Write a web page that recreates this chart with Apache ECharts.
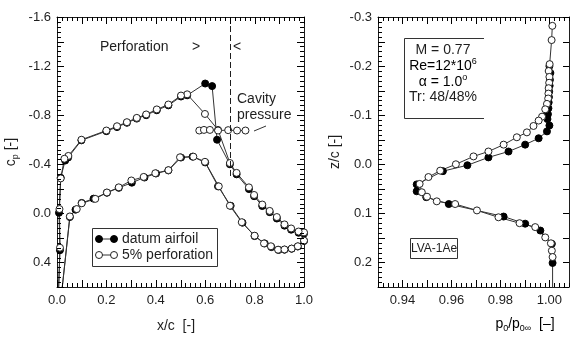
<!DOCTYPE html>
<html>
<head>
<meta charset="utf-8">
<script src="https://cdn.jsdelivr.net/npm/echarts@6/dist/echarts.min.js"></script>
<style>
  html, body { margin: 0; padding: 0; background: #fff; }
  #chart { width: 575px; height: 337px; }
</style>
</head>
<body>
<div id="chart"></div>
<script>
// ---- Surface pressure distribution, cp over x/c ----
// upper surface, listed from trailing edge to leading edge
const datumUpper = [
  [1.000, 0.165], [0.978, 0.158], [0.948, 0.133], [0.921, 0.100], [0.890, 0.042], [0.861, -0.010],
  [0.831, -0.060], [0.798, -0.140], [0.777, -0.198], [0.727, -0.318], [0.700, -0.400], [0.648, -0.600],
  [0.628, -1.037], [0.600, -1.058], [0.527, -0.962], [0.502, -0.952], [0.451, -0.880], [0.404, -0.840],
  [0.361, -0.800], [0.323, -0.772], [0.283, -0.738], [0.243, -0.703], [0.200, -0.670], [0.099, -0.595],
  [0.045, -0.455], [0.033, -0.430], [0.015, -0.290], [0.008, -0.005], [0.012, 0.300]
];
const perfUpper = [
  [1.000, 0.155], [0.978, 0.148], [0.948, 0.123], [0.921, 0.090], [0.890, 0.030], [0.861, -0.020],
  [0.831, -0.072], [0.798, -0.150], [0.777, -0.212], [0.727, -0.330], [0.700, -0.410], [0.652, -0.680],
  [0.599, -0.810], [0.527, -0.970], [0.502, -0.960], [0.451, -0.887], [0.404, -0.847], [0.361, -0.806],
  [0.323, -0.778], [0.283, -0.743], [0.243, -0.710], [0.200, -0.675], [0.099, -0.600], [0.046, -0.468],
  [0.030, -0.445], [0.015, -0.285], [0.010, -0.035], [0.012, 0.280]
];
// stagnation point (below the plotted range)
const stagnation = [0.000, 1.000];
// lower surface, listed from leading edge to trailing edge
const datumLower = [
  [0.052, 0.030], [0.075, -0.030], [0.100, -0.085], [0.148, -0.120], [0.202, -0.168], [0.250, -0.208],
  [0.303, -0.250], [0.354, -0.292], [0.401, -0.325], [0.451, -0.350], [0.502, -0.455], [0.549, -0.462],
  [0.600, -0.415], [0.652, -0.220], [0.703, -0.062], [0.751, 0.076], [0.800, 0.185], [0.841, 0.245],
  [0.868, 0.275], [0.897, 0.298], [0.921, 0.296], [0.950, 0.288], [0.975, 0.270], [1.000, 0.225]
];
const perfLower = [
  [0.052, 0.025], [0.080, -0.035], [0.100, -0.082], [0.155, -0.118], [0.202, -0.170], [0.250, -0.212],
  [0.301, -0.268], [0.351, -0.297], [0.398, -0.327], [0.451, -0.352], [0.498, -0.457], [0.552, -0.462],
  [0.599, -0.420], [0.655, -0.220], [0.700, -0.062], [0.748, 0.072], [0.800, 0.182], [0.838, 0.245],
  [0.866, 0.268], [0.895, 0.296], [0.921, 0.294], [0.950, 0.287], [0.975, 0.268], [1.000, 0.222]
];
// pressure measured inside the cavity below the perforated skin
const cavity = [
  [0.576, -0.675], [0.595, -0.680], [0.619, -0.680], [0.652, -0.675], [0.693, -0.678], [0.729, -0.675], [0.763, -0.675]
];
const perfEnd = 0.70;

// ---- Wake rake, total pressure ratio over z/c ----
const wakeDatum = [
  [1.0000, -0.200], [1.0004, -0.186], [1.0002, -0.172], [1.0001, -0.160], [0.9999, -0.148], [0.9998, -0.137],
  [0.9997, -0.126], [0.9996, -0.114], [0.9994, -0.102], [0.9992, -0.092], [1.0000, -0.079], [0.9990, -0.067],
  [0.9956, -0.053], [0.9901, -0.040], [0.9833, -0.026], [0.9751, -0.014], [0.9665, 0.002], [0.9565, 0.014],
  [0.9458, 0.041], [0.9458, 0.055], [0.9497, 0.067], [0.9589, 0.081], [0.9813, 0.1065], [0.9901, 0.121],
  [0.9963, 0.135], [1.0010, 0.162], [1.0013, 0.201], [1.0013, 0.300]
];
const wakePerf = [
  [1.0012, -0.282], [1.0009, -0.253], [1.0001, -0.204], [0.9997, -0.190], [1.0000, -0.178], [0.9999, -0.166],
  [0.9997, -0.155], [0.9996, -0.144], [0.9995, -0.134], [0.9990, -0.123], [0.9983, -0.112], [0.9970, -0.097],
  [0.9956, -0.089], [0.9935, -0.078], [0.9908, -0.065], [0.9867, -0.055], [0.9813, -0.040], [0.9751, -0.026],
  [0.9690, -0.016], [0.9618, 0.000], [0.9554, 0.013], [0.9506, 0.026], [0.9470, 0.040], [0.9479, 0.057],
  [0.9500, 0.066], [0.9540, 0.0755], [0.9615, 0.081], [0.9704, 0.094], [0.9792, 0.108], [0.9878, 0.120],
  [0.9942, 0.128], [0.9983, 0.149], [1.0006, 0.161], [1.0010, 0.176], [1.0013, 0.189]
];

const seriesNames = ['datum airfoil', '5% perforation'];
const flowInfo = ['M = 0.77', 'Re=12*10', '\u03b1 = 1.0', 'Tr: 48/48%'];
const modelName = 'LVA-1Ae';

// axis ranges and tick spacing: [min, max, minor step, major step]
const cpXTicks = [0, 1, 0.02, 0.1];
const cpYTicks = [-1.6, 0.6, 0.04, 0.2];
const wakeXTicks = [0.93, 1.008, 0.002, 0.01];
const wakeYTicks = [-0.3, 0.25, 0.01, 0.05];

// ---- styling ----
const FONT = "'Liberation Sans', Arial, Helvetica, sans-serif";
const INK = '#1e1e1e';
const LINE = '#333';

const GRIDS = [
  { left: 57, top: 17, width: 247, height: 270 },
  { left: 378, top: 17, width: 191, height: 270 }
];

function axis(gridIndex, position, range, interval, formatter, extra) {
  return Object.assign({
    type: 'value', gridIndex, position, min: range[0], max: range[1], interval,
    axisLine: { show: true, onZero: false, lineStyle: { color: INK, width: 1 } },
    axisTick: { show: false }, minorTick: { show: false },
    splitLine: { show: false }, minorSplitLine: { show: false },
    axisLabel: formatter
      ? { show: true, formatter, color: INK, fontFamily: FONT, fontSize: 13, margin: position === 'bottom' ? 7 : 6 }
      : { show: false }
  }, extra || {});
}

const fmtX1 = v => (Math.round(v * 10) % 2 === 0 ? v.toFixed(1) : '');
const fmtCp = v => {
  const k = Math.round(v * 10);
  if (k % 4 !== 0) return '';
  return k === 0 ? '0.0' : (k / 10).toFixed(1);
};
const fmtP = v => (Math.round(v * 1000) % 20 === 0 ? v.toFixed(2) : '');
const fmtZ = v => {
  const k = Math.round(v * 100);
  if (k % 10 !== 0) return '';
  return k === 0 ? '0.0' : (k / 100).toFixed(1);
};

// tick list [value, length] along one axis
function tickList(spec, majorLen, minorLen) {
  const [min, max, minor, major] = spec;
  const n = Math.round((max - min) / minor);
  const out = [];
  for (let i = 0; i <= n; i++) {
    const v = min + i * minor;
    const r = v / major;
    const isMajor = Math.abs(r - Math.round(r)) < 1e-6;
    if (minorLen || isMajor) out.push([v, isMajor ? majorLen : minorLen]);
  }
  return out;
}

// inward-pointing frame ticks on the linear axis extents of each plot
const frameTicks = [];
function tickLine(x1, y1, x2, y2) {
  frameTicks.push({ type: 'line', silent: true, z: 50, shape: { x1, y1, x2, y2 }, style: { stroke: '#000', lineWidth: 1 } });
}
function xTicks(grid, spec, list, sides) {
  const top = grid.top, bottom = grid.top + grid.height;
  list.forEach(([v, len]) => {
    const px = Math.round(grid.left + (v - spec[0]) / (spec[1] - spec[0]) * grid.width) + 0.5;
    if (sides[0]) tickLine(px, bottom, px, bottom - len);
    if (sides[1]) tickLine(px, top, px, top + len);
  });
}
function yTicks(grid, spec, list, sides) {
  // y axes run downward (inverse): the minimum sits at the top edge
  const left = grid.left, right = grid.left + grid.width;
  list.forEach(([v, len]) => {
    const py = Math.round(grid.top + (v - spec[0]) / (spec[1] - spec[0]) * grid.height) + 0.5;
    if (sides[0]) tickLine(left, py, left + len, py);
    if (sides[1]) tickLine(right, py, right - len, py);
  });
}
xTicks(GRIDS[0], cpXTicks, tickList(cpXTicks, 7, 4), [true, true]);
yTicks(GRIDS[0], cpYTicks, tickList(cpYTicks, 7, 4), [true, true]);
xTicks(GRIDS[1], wakeXTicks, tickList(wakeXTicks, 7, 4), [true, true]);
yTicks(GRIDS[1], wakeYTicks, tickList(wakeYTicks, 7, 4), [true, false]);
yTicks(GRIDS[1], wakeYTicks, tickList(wakeYTicks, 6, 0), [false, true]);

const markerFilled = { color: '#000', borderColor: '#000', borderWidth: 1 };
const markerOpen = { color: '#fff', borderColor: '#222', borderWidth: 1 };

function lineSeries(name, data, xi, yi, marker, extra) {
  return Object.assign({
    name, type: 'line', xAxisIndex: xi, yAxisIndex: yi, data,
    symbol: 'circle', symbolSize: 7, showAllSymbol: true,
    lineStyle: { color: LINE, width: 1 },
    itemStyle: marker, z: 3,
    clip: true, animation: false, silent: true
  }, extra || {});
}

const richText = {
  n: { fontFamily: FONT, fontSize: 14, color: INK, lineHeight: 18 },
  s: { fontFamily: FONT, fontSize: 9, color: INK, verticalAlign: 'bottom', lineHeight: 18 },
  u: { fontFamily: FONT, fontSize: 9, color: INK, verticalAlign: 'top', lineHeight: 18 }
};
const nameStyle = { color: INK, fontFamily: FONT, fontSize: 14, rich: richText };

const annotations = [
  // perforated region annotation
  { type: 'text', x: 100, y: 47, silent: true,
    style: { text: 'Perforation', font: '14px ' + FONT, fill: INK, verticalAlign: 'middle' } },
  { type: 'text', x: 196, y: 47, silent: true,
    style: { text: '>', font: '14px ' + FONT, fill: INK, align: 'center', verticalAlign: 'middle' } },
  { type: 'text', x: 237, y: 47, silent: true,
    style: { text: '<', font: '14px ' + FONT, fill: INK, align: 'center', verticalAlign: 'middle' } },
  { type: 'text', x: 237, y: 99, silent: true,
    style: { text: 'Cavity', font: '14px ' + FONT, fill: INK, verticalAlign: 'middle' } },
  { type: 'text', x: 237, y: 115, silent: true,
    style: { text: 'pressure', font: '14px ' + FONT, fill: INK, verticalAlign: 'middle' } },
  { type: 'line', silent: true, shape: { x1: 254, y1: 131, x2: 266, y2: 126 },
    style: { stroke: LINE, lineWidth: 1 } },

  // legend
  { type: 'rect', silent: true, z: 60, shape: { x: 92.5, y: 228.5, width: 125, height: 38 },
    style: { fill: '#fff', stroke: LINE, lineWidth: 1 } },
  { type: 'line', silent: true, z: 61, shape: { x1: 99, y1: 239, x2: 114, y2: 239 }, style: { stroke: LINE, lineWidth: 1 } },
  { type: 'circle', silent: true, z: 61, shape: { cx: 99, cy: 239, r: 3.5 }, style: { fill: '#000', stroke: '#000' } },
  { type: 'circle', silent: true, z: 61, shape: { cx: 114, cy: 239, r: 3.5 }, style: { fill: '#000', stroke: '#000' } },
  { type: 'text', x: 122, y: 239, silent: true, z: 61,
    style: { text: seriesNames[0], font: '14px ' + FONT, fill: INK, verticalAlign: 'middle' } },
  { type: 'line', silent: true, z: 61, shape: { x1: 99, y1: 255, x2: 114, y2: 255 }, style: { stroke: LINE, lineWidth: 1 } },
  { type: 'circle', silent: true, z: 61, shape: { cx: 99, cy: 255, r: 3.5 }, style: { fill: '#fff', stroke: '#222' } },
  { type: 'circle', silent: true, z: 61, shape: { cx: 114, cy: 255, r: 3.5 }, style: { fill: '#fff', stroke: '#222' } },
  { type: 'text', x: 122, y: 255, silent: true, z: 61,
    style: { text: seriesNames[1], font: '14px ' + FONT, fill: INK, verticalAlign: 'middle' } },

  // x axis titles
  { type: 'text', x: 176, y: 326, silent: true,
    style: { text: 'x/c  [-]', font: '14px ' + FONT, fill: INK, align: 'center', verticalAlign: 'middle' } },
  { type: 'text', x: 525, y: 324, silent: true,
    style: {
      text: '{n|p}{s|0}{n|/p}{s|0\u221e}{n|  [\u2013]}', align: 'center', verticalAlign: 'middle',
      rich: richText
    } },

  // flow condition box
  { type: 'polyline', silent: true,
    shape: { points: [[484, 38.5], [404.5, 38.5], [404.5, 118.5], [484, 118.5]] },
    style: { fill: null, stroke: LINE, lineWidth: 1 } },
  { type: 'text', x: 443, y: 50, silent: true,
    style: { text: flowInfo[0], font: '14px ' + FONT, fill: INK, align: 'center', verticalAlign: 'middle' } },
  { type: 'text', x: 443, y: 66, silent: true,
    style: { text: '{n|' + flowInfo[1] + '}{u|6}', align: 'center', verticalAlign: 'middle', rich: richText } },
  { type: 'text', x: 443, y: 82, silent: true,
    style: { text: '{n|' + flowInfo[2] + '}{u|o}', align: 'center', verticalAlign: 'middle', rich: richText } },
  { type: 'text', x: 443, y: 97, silent: true,
    style: { text: flowInfo[3], font: '14px ' + FONT, fill: INK, align: 'center', verticalAlign: 'middle' } },

  // model designation
  { type: 'rect', silent: true, z: 60, shape: { x: 410.5, y: 238.5, width: 47, height: 20 },
    style: { fill: '#fff', stroke: LINE, lineWidth: 1 } },
  { type: 'text', x: 434, y: 248.5, silent: true, z: 61,
    style: { text: modelName, font: '12px ' + FONT, fill: INK, align: 'center', verticalAlign: 'middle' } }
];

const option = {
  backgroundColor: '#fff',
  animation: false,
  grid: GRIDS,
  xAxis: [
    axis(0, 'bottom', cpXTicks, 0.1, fmtX1),
    axis(0, 'top', cpXTicks, 0.1, null),
    axis(1, 'bottom', wakeXTicks, 0.01, fmtP),
    axis(1, 'top', wakeXTicks, 0.01, null)
  ],
  yAxis: [
    axis(0, 'left', cpYTicks, 0.2, fmtCp, {
      inverse: true,
      name: '{n|c}{s|p}{n| [-]}', nameLocation: 'middle', nameRotate: 90, nameGap: 37, nameTextStyle: nameStyle
    }),
    axis(0, 'right', cpYTicks, 0.2, null, { inverse: true }),
    axis(1, 'left', wakeYTicks, 0.05, fmtZ, {
      inverse: true,
      name: '{n|z/c [-]}', nameLocation: 'middle', nameRotate: 90, nameGap: 34, nameTextStyle: nameStyle
    }),
    axis(1, 'right', wakeYTicks, 0.05, null, { inverse: true })
  ],
  series: [
    lineSeries(seriesNames[0], datumUpper.concat([stagnation], datumLower), 0, 0, markerFilled),
    lineSeries(seriesNames[1], perfUpper.concat([stagnation], perfLower), 0, 0, markerOpen),
    lineSeries('cavity pressure', cavity, 0, 0, markerOpen, {
      markLine: {
        silent: true, symbol: 'none', animation: false,
        label: { show: false },
        lineStyle: { color: INK, width: 1, type: [6, 3] },
        data: [[{ coord: [perfEnd, -1.6] }, { coord: [perfEnd, -0.3] }]]
      }
    }),
    lineSeries(seriesNames[0] + ' wake', wakeDatum, 2, 2, markerFilled),
    lineSeries(seriesNames[1] + ' wake', wakePerf, 2, 2, markerOpen)
  ],
  graphic: annotations.concat(frameTicks)
};

const chart = echarts.init(document.getElementById('chart'), null, { renderer: 'canvas' });
chart.setOption(option);
</script>
</body>
</html>
